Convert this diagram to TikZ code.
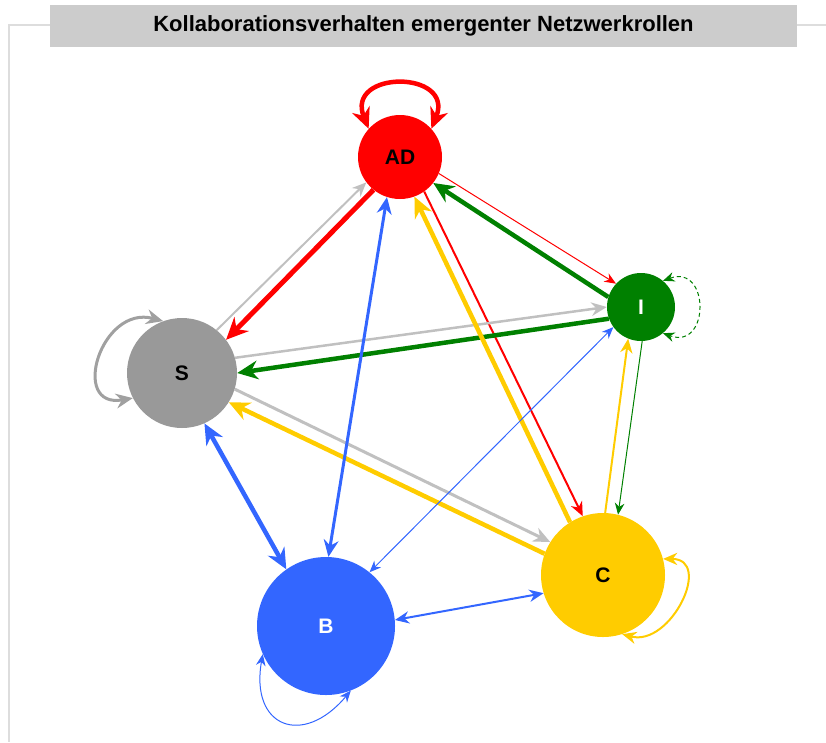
\documentclass[tikz,border=0pt]{standalone}
\usepackage{fontspec}
\setmainfont{Liberation Sans}
\usetikzlibrary{arrows.meta}

\definecolor{roleRed}{HTML}{FF0000}
\definecolor{roleGreen}{HTML}{008000}
\definecolor{roleGray}{HTML}{999999}
\definecolor{edgeGray}{HTML}{C0C0C0}
\definecolor{loopGray}{HTML}{A0A0A0}
\definecolor{roleYellow}{HTML}{FFCC00}
\definecolor{roleBlue}{HTML}{3366FF}
\definecolor{titleFill}{HTML}{CCCCCC}
\definecolor{frameLine}{HTML}{DDDDDD}

\begin{document}
\begin{tikzpicture}[x=1pt,y=1pt,
  role/.style={circle, inner sep=0pt, font=\fontsize{21}{24}\selectfont\bfseries},
  tip/.tip={Stealth[length=9pt 2.6, width=7pt 2.6]},
  link/.style={-tip},
  both/.style={tip-tip},
  w1/.style={line width=1pt},
  w2/.style={line width=2pt},
  w3/.style={line width=3pt},
  w4/.style={line width=4.5pt},
  w5/.style={line width=5pt}]

\useasboundingbox (0,0) rectangle (826,-742);

% outer frame and title bar
\draw[frameLine, line width=2pt] (50,-25) -- (9,-25) -- (9,-742);
\draw[frameLine, line width=2pt] (797,-25) -- (826,-25);
\node[fill=titleFill, minimum width=747pt, minimum height=42pt, inner sep=0pt,
      font=\fontsize{22}{26}\selectfont\bfseries] (title) at (423.5,-26)
      {Kollaborationsverhalten emergenter Netzwerkrollen};

% roles
\node[role, fill=roleRed, minimum size=84pt] (AD) at (400,-157) {AD};
\node[role, fill=roleGreen, minimum size=68pt, text=white] (I) at (641,-307) {I};
\node[role, fill=roleGray, minimum size=110pt] (S) at (182,-373) {S};
\node[role, fill=roleYellow, minimum size=124pt] (C) at (603,-575) {C};
\node[role, fill=roleBlue, minimum size=138pt, text=white] (B) at (326,-626) {B};

% self-loops
\draw[both, w4, roleRed] (AD.138) to[out=112, in=68, looseness=2.6] (AD.42);
\draw[both, w1, roleGreen, dash pattern=on 4pt off 3pt] (I.50) to[out=20, in=-20, looseness=2.45] (I.-50);
\draw[both, w3, loopGray] (S.110) to[out=165, in=190, looseness=2.0] (S.207);
\draw[both, w2, roleYellow] (C.15) to[out=0, in=-15, looseness=1.5] (C.-72);
\draw[both, w1, roleBlue] (B.204) to[out=260, in=230, looseness=2.0] (B.-69);

% links from AD
\draw[link, w1, roleRed] (AD.-23) -- (I.137);
\draw[link, w5, roleRed] (AD.231) -- (S.37);
\draw[link, w2, roleRed] (AD.-55) -- (C.109);

% links from I
\draw[link, w4, roleGreen] (I.163) -- (AD.-38);
\draw[link, w4, roleGreen] (I.200) -- (S.0);
\draw[link, w1, roleGreen] (I.-88) -- (C.76);

% links from S
\draw[link, w2, edgeGray] (S.51) -- (AD.217);
\draw[link, line width=2.5pt, edgeGray] (S.16) -- (I.180);
\draw[link, w3, edgeGray] (S.-17) -- (C.148);

% links from C
\draw[link, w4, roleYellow] (C.122) -- (AD.-70);
\draw[link, w2, roleYellow] (C.88) -- (I.248);
\draw[link, w4, roleYellow] (C.160) -- (S.-32);

% links of B
\draw[both, w3, roleBlue] (AD.252) -- (B.88);
\draw[both, w1, roleBlue] (B.51) -- (I.216);
\draw[both, w4, roleBlue] (S.-66) -- (B.125);
\draw[both, w2, roleBlue] (B.5) -- (C.197);

\end{tikzpicture}
\end{document}
